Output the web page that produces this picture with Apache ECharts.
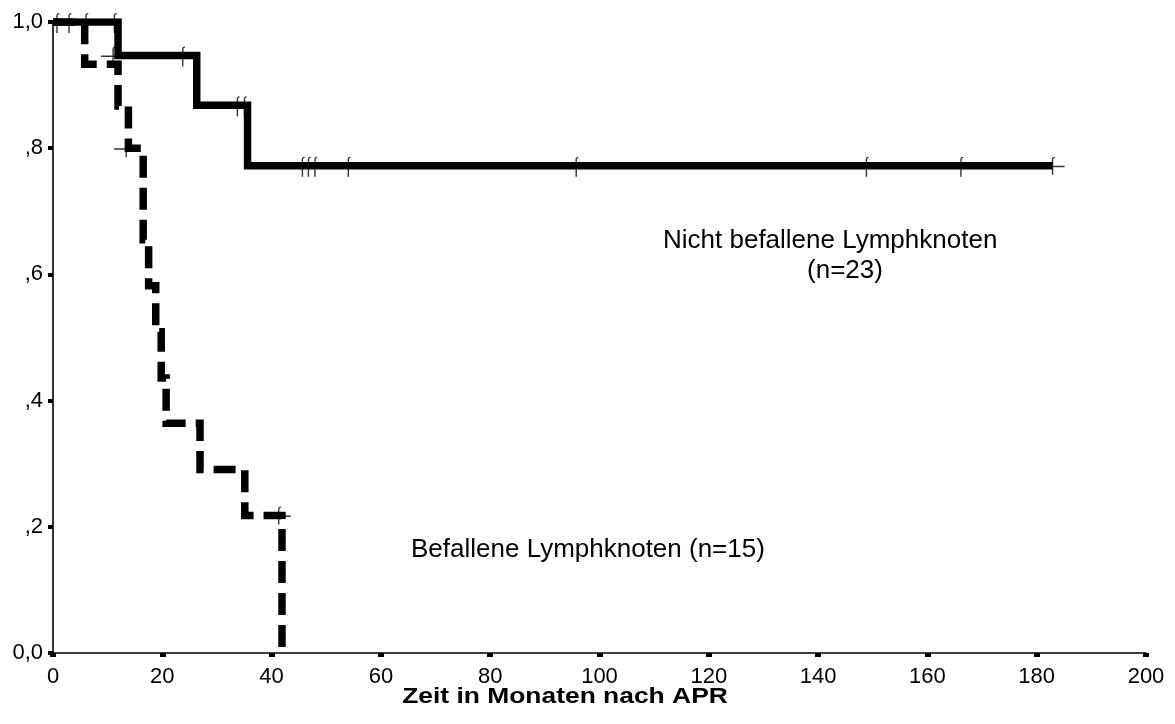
<!DOCTYPE html>
<html>
<head>
<meta charset="utf-8">
<script src="https://cdn.jsdelivr.net/npm/echarts@6/dist/echarts.min.js"></script>
<style>
  html, body { margin: 0; padding: 0; background: #fff; }
  #chart { width: 1175px; height: 724px; }
</style>
</head>
<body>
<div id="chart"></div>
<script>
// Kaplan-Meier, Zeit in Monaten
const solidTimes = [0, 11.9, 26.3, 35.6, 182.9]
const solidSurv = [1, 0.947, 0.868, 0.772, 0.772]
const solidCensorTimes = [0.7, 2.9, 6.0, 11.2, 23.7, 33.7, 35.0, 45.6, 46.7, 47.9, 54.0, 95.7, 148.8, 166.1]
const solidCensorSurv = [1, 1, 1, 1, 0.947, 0.868, 0.868, 0.772, 0.772, 0.772, 0.772, 0.772, 0.772, 0.772]
const solidPlusTimes = [11.0, 182.9]
const solidPlusSurv = [0.947, 0.772]

const dashedTimes = [0, 5.8, 11.9, 13.8, 16.5, 17.5, 18.8, 19.8, 20.7, 26.9, 35.1, 41.9]
const dashedSurv = [1, 0.933, 0.867, 0.8, 0.655, 0.582, 0.509, 0.436, 0.364, 0.291, 0.218, 0]
const dashedPlusTimes = [13.4, 41.3]
const dashedPlusSurv = [0.8, 0.218]

const xTicks = [0, 20, 40, 60, 80, 100, 120, 140, 160, 180, 200]
const yTickLabels = { '0': '0,0', '0.2': ',2', '0.4': ',4', '0.6': ',6', '0.8': ',8', '1': '1,0' }

const textNicht = ['Nicht befallene Lymphknoten', '(n=23)']
const textBefallen = 'Befallene Lymphknoten (n=15)'
const xTitle = 'Zeit in Monaten nach APR'

const FONT = '"Liberation Sans", Arial, sans-serif'

// Zensur-Strich mit kleinem Haken oben
const tickPath = 'path://M0,3 C0,1 1,0 3,0 L3,1.2 C2,1.2 1.4,1.8 1.4,3 L1.4,20 L0,20 Z'
const plusPath = 'path://M0,9 L24,9 L24,10.5 L0,10.5 Z M11.3,3 C11.3,1 12.3,0 14.3,0 L14.3,1.2 C13.3,1.2 12.7,1.8 12.7,3 L12.7,18 L11.3,18 Z'

function zip(a, b) {
    return a.map((v, i) => [v, b[i]])
}

let chart = echarts.init(document.getElementById('chart'))

chart.setOption({
    animation: false,
    backgroundColor: '#fff',
    grid: { left: 53, right: 29, top: 22, bottom: 71 },
    xAxis: {
        type: 'value',
        min: xTicks[0],
        max: xTicks[xTicks.length - 1],
        interval: 20,
        splitLine: { show: false },
        axisLine: { lineStyle: { color: '#000', width: 1.6 } },
        axisTick: { inside: false, length: 4, lineStyle: { color: '#000', width: 6 } },
        axisLabel: { color: '#000', fontFamily: FONT, fontSize: 22, margin: 13 }
    },
    yAxis: {
        type: 'value',
        min: 0,
        max: 1,
        interval: 0.2,
        splitLine: { show: false },
        axisLine: { show: true, lineStyle: { color: '#000', width: 1.6 } },
        axisTick: { show: true, length: 5, lineStyle: { color: '#000', width: 4 } },
        axisLabel: {
            color: '#000', fontFamily: FONT, fontSize: 22, margin: 10,
            formatter: v => yTickLabels[String(+v.toFixed(1))] || ''
        }
    },
    series: [
        {
            type: 'line',
            step: 'end',
            data: zip(dashedTimes, dashedSurv),
            symbol: 'none',
            lineStyle: { color: '#000', width: 7.5, type: [22, 10], cap: 'butt', join: 'miter' }
        },
        {
            type: 'line',
            step: 'end',
            data: zip(solidTimes, solidSurv),
            symbol: 'none',
            lineStyle: { color: '#000', width: 7.5, join: 'miter' }
        },
        {
            type: 'scatter',
            data: zip(solidCensorTimes, solidCensorSurv),
            symbol: tickPath,
            symbolSize: [3, 20],
            symbolOffset: [1, 1],
            itemStyle: { color: '#000' }
        },
        {
            type: 'scatter',
            data: zip(solidPlusTimes, solidPlusSurv).concat(zip(dashedPlusTimes, dashedPlusSurv)),
            symbol: plusPath,
            symbolSize: [24, 18],
            itemStyle: { color: '#000' }
        }
    ],
    graphic: [
        {
            type: 'text', x: 663, y: 241,
            style: { text: textNicht[0], font: '26px ' + FONT, fill: '#000', textVerticalAlign: 'middle' }
        },
        {
            type: 'text', x: 845, y: 271,
            style: { text: textNicht[1], font: '26px ' + FONT, fill: '#000', textAlign: 'center', textVerticalAlign: 'middle' }
        },
        {
            type: 'text', x: 411, y: 550,
            style: { text: textBefallen, font: '26px ' + FONT, fill: '#000', textVerticalAlign: 'middle' }
        },
        {
            type: 'text', x: 565, y: 697, scaleX: 1.2,
            style: { text: xTitle, font: 'bold 22px ' + FONT, fill: '#000', textAlign: 'center', textVerticalAlign: 'middle' }
        }
    ]
})
</script>
</body>
</html>
